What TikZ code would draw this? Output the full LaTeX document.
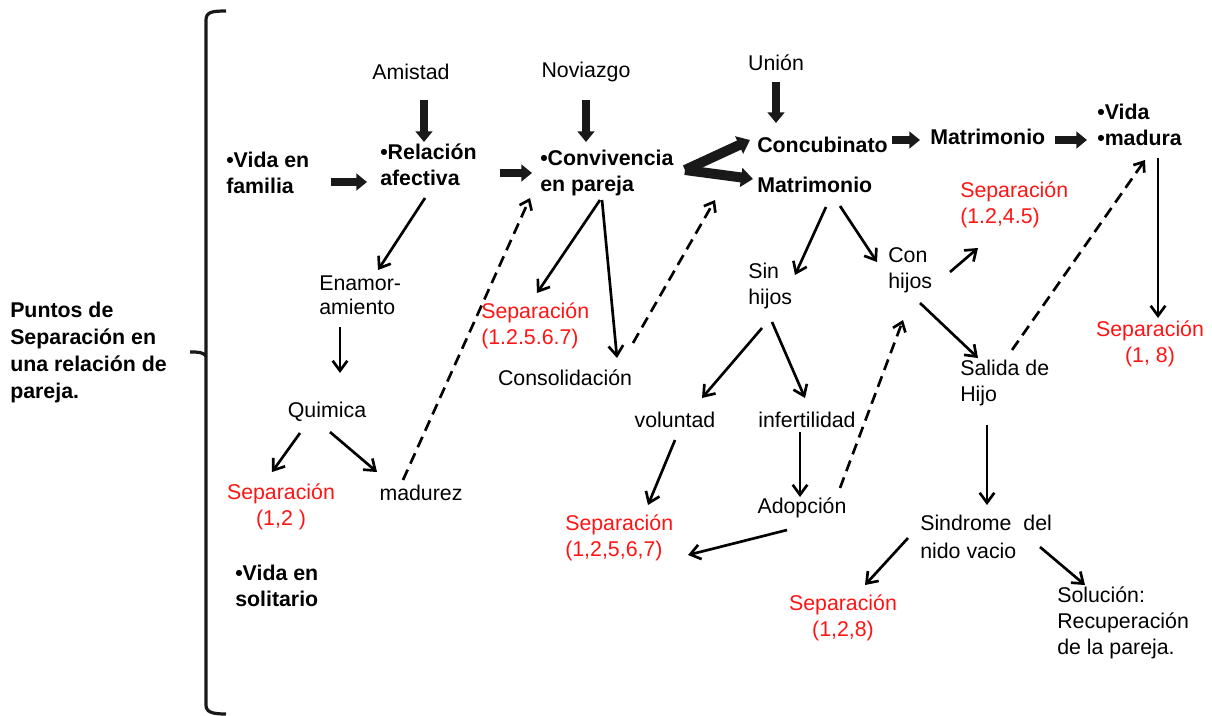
\documentclass[tikz,border=0pt]{standalone}
\usepackage{fontspec}
\setmainfont{Liberation Sans}
\usetikzlibrary{arrows.meta,calc}
\definecolor{sepred}{RGB}{255,20,20}
\begin{document}
\begin{tikzpicture}[x=0.75pt,y=-0.75pt,
  lbl/.style={inner sep=0pt, align=left, font=\fontsize{16pt}{19.5pt}\selectfont},
  blbl/.style={inner sep=0pt, align=left, font=\fontsize{16pt}{19.5pt}\selectfont\bfseries},
  rlbl/.style={lbl, text=sepred},
  clbl/.style={lbl, align=center},
  crlbl/.style={rlbl, align=center},
  thinarrow/.style={line width=2pt, -{Straight Barb[length=7.5pt,width=11pt]}},
  dasharrow/.style={line width=2pt, dash pattern=on 8.5pt off 5pt, -{Straight Barb[length=6.5pt,width=10pt]}},
  blockarrow/.style={line width=5.5pt, -{Triangle[length=8pt,width=12.5pt]}, draw=black!90},
  vblockarrow/.style={line width=7.5pt, -{Triangle[length=9pt,width=14pt]}, draw=black!90},
  bracestyle/.style={line width=2.4pt, draw=black!90},
]
\useasboundingbox (0,0) rectangle (1212,715);

% brace
\draw[bracestyle] (226,11) .. controls (212,11) and (206,12) .. (206,20) -- (206,705) .. controls (206,712) and (212,714) .. (226,714);
\draw[bracestyle] (190,352) .. controls (198,352) and (203,352) .. (206,356);

% title
\node[blbl, anchor=west, font=\fontsize{16pt}{20.25pt}\selectfont\bfseries] (title) at (10,352) {Puntos de\\Separación en\\una relación de\\pareja.};

% nodes
\node[blbl, anchor=west] (vida) at (226,173) {•Vida en\\familia};
\node[lbl] (amistad) at (411,72) {Amistad};
\node[blbl, anchor=west] (relacion) at (380,165) {•Relación\\afectiva};
\node[lbl] (noviazgo) at (586,72) {Noviazgo};
\node[blbl, anchor=west] (conviv) at (540,173) {•Convivencia\\en pareja};
\node[lbl] (union) at (776,63) {Unión};
\node[blbl, anchor=west] (concub) at (757,145) {Concubinato};
\node[blbl, anchor=west] (matri1) at (757,185) {Matrimonio};
\node[blbl, anchor=west] (matri2) at (930,137) {Matrimonio};
\node[blbl, anchor=west] (vidamad) at (1097,125) {•Vida\\•madura};
\node[rlbl, anchor=west] (sep1245) at (960,205) {Separación\\(1.2,4.5)};
\node[crlbl] (sep18) at (1150,344) {Separación\\(1, 8)};
\node[lbl, anchor=west] (sinhijos) at (748,286) {Sin\\hijos};
\node[lbl, anchor=west] (conhijos) at (888,270) {Con\\hijos};
\node[lbl, anchor=west] (salida) at (960,383) {Salida de\\Hijo};
\node[lbl, anchor=west, font=\fontsize{16pt}{21pt}\selectfont] (sindrome) at (920,537) {Sindrome~ del\\nido vacio};
\node[crlbl] (sep128) at (843,618) {Separación\\(1,2,8)};
\node[lbl, anchor=west] (solucion) at (1057,623) {Solución:\\Recuperación\\de la pareja.};
\node[lbl] (voluntad) at (675,420) {voluntad};
\node[lbl] (infert) at (807,420) {infertilidad};
\node[lbl] (adopcion) at (802,508) {Adopción};
\node[rlbl, anchor=west] (sepB) at (565,538) {Separación\\(1,2,5,6,7)};
\node[rlbl, anchor=west] (sepA) at (481,326) {Separación\\(1.2.5.6.7)};
\node[lbl] (consol) at (565,378) {Consolidación};
\node[lbl, anchor=west, font=\fontsize{16pt}{18pt}\selectfont] (enamor) at (319,295) {Enamor-\\amiento};
\node[lbl] (quimica) at (327,412) {Quimica};
\node[crlbl] (sep12) at (281,507) {Separación\\(1,2 )};
\node[lbl] (madurez) at (421,493) {madurez};
\node[blbl, anchor=west] (solitario) at (235,586) {•Vida en\\solitario};

% block arrows
\draw[blockarrow] ([shift={(105,9)}]vida.west) -- ([shift={(-13,17)}]relacion.west);
\draw[blockarrow] ([shift={(120,8)}]relacion.west) -- ([shift={(-8,0)}]conviv.west);
\draw[blockarrow] ([shift={(13,28)}]amistad.center) -- ([shift={(44,-23)}]relacion.west);
\draw[blockarrow] ([shift={(0,28)}]noviazgo.center) -- ([shift={(46,-31)}]conviv.west);
\draw[blockarrow] ([shift={(0,19)}]union.center) -- ([shift={(19,-22)}]concub.west);
\draw[vblockarrow] ([shift={(145,-3)}]conviv.west) -- ([shift={(-7,-5)}]concub.west);
\draw[vblockarrow] ([shift={(145,-3)}]conviv.west) -- ([shift={(-4,-6)}]matri1.west);
\draw[blockarrow] ([shift={(135,-5)}]concub.west) -- ([shift={(-10,3)}]matri2.west);
\draw[blockarrow] ([shift={(125,3)}]matri2.west) -- ([shift={(-10,15)}]vidamad.west);

% thin arrows
\draw[thinarrow] ([shift={(45,33)}]relacion.west) -- ([shift={(59,-25)}]enamor.west);
\draw[thinarrow] ([shift={(21,32)}]enamor.west) -- ([shift={(13,-39)}]quimica.center);
\draw[thinarrow] ([shift={(-27,21)}]quimica.center) -- ([shift={(-9,-35)}]sep12.center);
\draw[thinarrow] ([shift={(3,20)}]quimica.center) -- ([shift={(-44,-21)}]madurez.center);
\draw[thinarrow] ([shift={(60,27)}]conviv.west) -- ([shift={(56,-33)}]sepA.west);
\draw[thinarrow] ([shift={(62,27)}]conviv.west) -- ([shift={(52,-20)}]consol.center);
\draw[thinarrow] ([shift={(69,22)}]matri1.west) -- ([shift={(47,-11)}]sinhijos.west);
\draw[thinarrow] ([shift={(83,21)}]matri1.west) -- ([shift={(-11,-8)}]conhijos.west);
\draw[thinarrow] ([shift={(62,2)}]conhijos.west) -- ([shift={(18,43)}]sep1245.west);
\draw[thinarrow] ([shift={(32,33)}]conhijos.west) -- ([shift={(18,-25)}]salida.west);
\draw[thinarrow] ([shift={(14,42)}]sinhijos.west) -- ([shift={(27,-22)}]voluntad.center);
\draw[thinarrow] ([shift={(24,36)}]sinhijos.west) -- ([shift={(-2,-22)}]infert.center);
\draw[thinarrow] ([shift={(-7,12)}]infert.center) -- ([shift={(-2,-11)}]adopcion.center);
\draw[thinarrow] ([shift={(0,20)}]voluntad.center) -- ([shift={(83,-33)}]sepB.west);
\draw[thinarrow] ([shift={(-15,22)}]adopcion.center) -- ([shift={(123,17)}]sepB.west);
\draw[thinarrow] ([shift={(27,42)}]salida.west) -- ([shift={(67,-32)}]sindrome.west);
\draw[thinarrow] ([shift={(-12,1)}]sindrome.west) -- ([shift={(22,-33)}]sep128.center);
\draw[thinarrow] ([shift={(120,10)}]sindrome.west) -- ([shift={(28,-38)}]solucion.west);
\draw[thinarrow] ([shift={(61,33)}]vidamad.west) -- ([shift={(8,-26)}]sep18.center);

% dashed arrows
\draw[dasharrow] ([shift={(-18,-13)}]madurez.center) -- ([shift={(-10,25)}]conviv.west);
\draw[dasharrow] ([shift={(68,-35)}]consol.center) -- ([shift={(-42,15)}]matri1.west);
\draw[dasharrow] ([shift={(38,-20)}]adopcion.center) -- ([shift={(15,50)}]conhijos.west);
\draw[dasharrow] ([shift={(52,-33)}]salida.west) -- ([shift={(48,35)}]vidamad.west);
\end{tikzpicture}
\end{document}
